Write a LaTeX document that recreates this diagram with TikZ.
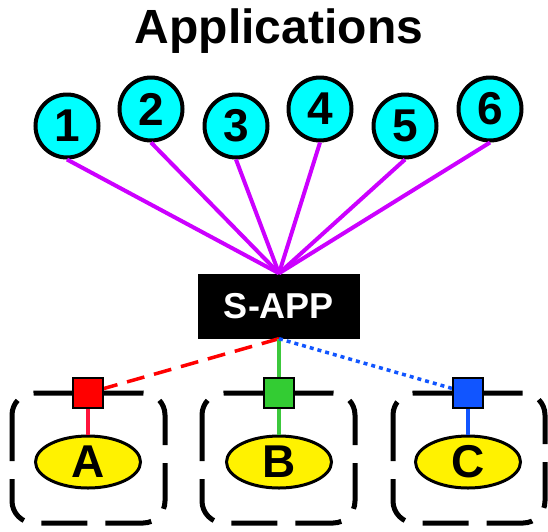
\documentclass[tikz,border=0pt]{standalone}
\usepackage{fontspec}
\setmainfont{Liberation Sans}
\usetikzlibrary{shapes.geometric}
\definecolor{appcyan}{RGB}{0,255,255}
\definecolor{linkpurple}{RGB}{204,0,255}
\definecolor{portred}{RGB}{255,0,0}
\definecolor{wirered}{RGB}{255,20,60}
\definecolor{portgreen}{RGB}{51,204,51}
\definecolor{wiregreen}{RGB}{60,200,60}
\definecolor{portblue}{RGB}{17,85,255}
\tikzset{
  app/.style={circle, draw=black, line width=4pt, fill=appcyan, minimum size=63pt, inner sep=0pt,
    font=\bfseries\fontsize{46}{46}\selectfont},
  link/.style={draw=linkpurple, line width=4pt},
  port/.style={rectangle, draw=black, line width=1.8pt, minimum size=30pt, inner sep=0pt},
  host/.style={ellipse, draw=black, line width=3pt, fill=yellow, minimum width=105pt, minimum height=52pt,
    inner sep=0pt, font=\bfseries\fontsize{46}{46}\selectfont},
  group/.style={draw=black, line width=5pt, rounded corners=22pt, dash pattern=on 46pt off 18pt}
}
\begin{document}
\begin{tikzpicture}[x=1pt, y=-1pt]
\useasboundingbox (0,0) rectangle (548,531);
\node (title) at (279,31) {\bfseries\fontsize{48}{48}\selectfont Applications};
% applications
\node[app] (c1) at (67,126) {1};
\node[app] (c2) at (151,109) {2};
\node[app] (c3) at (236,126) {3};
\node[app] (c4) at (320,109) {4};
\node[app] (c5) at (405,126) {5};
\node[app] (c6) at (490,109) {6};
% switch
\node[fill=black, text=white, minimum width=162pt, minimum height=65pt, inner sep=0pt,
  font=\bfseries\fontsize{36}{36}\selectfont] (sapp) at (279,306) {S-APP};
\foreach \i in {1,...,6}
  \draw[link] (c\i.south) -- (sapp.north);
% groups
\draw[group] (12,393) rectangle (165,523);
\draw[group] (202,393) rectangle (355,523);
\draw[group] (393,393) rectangle (545,523);
% hosts
\node[host] (ea) at (88,462) {A};
\node[host] (eb) at (279,462) {B};
\node[host] (ec) at (468,462) {C};
% links to ports
\draw[portred, line width=3.5pt, dash pattern=on 18pt off 10pt] (sapp.south) -- (88,393);
\draw[wiregreen, line width=3.5pt] (sapp.south) -- (279,393);
\draw[portblue, line width=3.5pt, dash pattern=on 4pt off 4pt] (sapp.south) -- (468,393);
\draw[wirered, line width=4.5pt] (88,393) -- (ea.north);
\draw[wiregreen, line width=4.5pt] (279,393) -- (eb.north);
\draw[portblue, line width=4.5pt] (468,393) -- (ec.north);
\node[port, fill=portred] (pa) at (88,393) {};
\node[port, fill=portgreen] (pb) at (279,393) {};
\node[port, fill=portblue] (pc) at (468,393) {};
\end{tikzpicture}
\end{document}
